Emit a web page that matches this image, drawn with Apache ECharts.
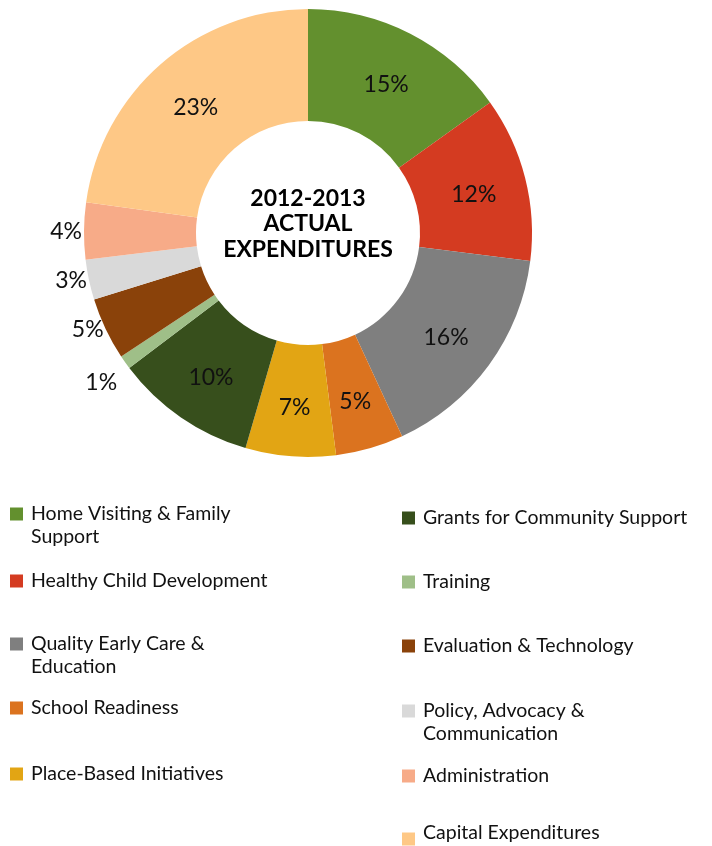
<!DOCTYPE html>
<html>
<head>
<meta charset="utf-8">
<script src="https://cdn.jsdelivr.net/npm/echarts@6/dist/echarts.min.js"></script>
<style>
  html, body { margin: 0; padding: 0; background: #fff; }
  #chart { width: 712px; height: 846px; }
</style>
</head>
<body>
<div id="chart"></div>
<script>
// 2012-2013 actual expenditures — donut, clockwise from 12 o'clock, legend in two columns below.
const CATEGORIES = [
  "Home Visiting & Family Support", "Healthy Child Development", "Quality Early Care & Education",
  "School Readiness", "Place-Based Initiatives", "Grants for Community Support", "Training",
  "Evaluation & Technology", "Policy, Advocacy & Communication", "Administration", "Capital Expenditures",
];
// share of total (%); labels show the rounded value
const SHARES = [15.1, 11.9, 16.1, 4.9, 6.5, 10.2, 1.0, 4.5, 2.9, 4.1, 22.8];
const COLORS = ["#63902e", "#d43b21", "#7f7f7f", "#db731f", "#e2a514", "#374f1c", "#9fbf88", "#8a420a", "#d9d9d9", "#f7ab88", "#fec886"];
// small slices get their label outside the ring
const OUTSIDE = [false, false, false, false, false, false, true, true, true, true, false];
// legend text as it wraps in the reference
const LEGEND_TEXT = [
  "Home Visiting & Family\nSupport", "Healthy Child Development", "Quality Early Care &\nEducation",
  "School Readiness", "Place-Based Initiatives", "Grants for Community Support", "Training",
  "Evaluation & Technology", "Policy, Advocacy &\nCommunication", "Administration", "Capital Expenditures",
];

const FONT = "Lato";
const LH = 23;
// legend slot per item: [left px, icon centre y, text raise px]
const LEGEND_POS = [[10, 514, 0], [10, 581, 0], [10, 644, 0], [10, 708, 0], [10, 774, 0],
  [402, 518, 0], [402, 582, 0], [402, 646, 0], [402, 711, 0], [402, 776, 0], [402, 839, 6]];

const chart = echarts.init(document.getElementById("chart"), null, { renderer: "canvas" });

const data = CATEGORIES.map((name, i) => ({
  name, value: SHARES[i],
  itemStyle: { color: COLORS[i] },
  label: OUTSIDE[i] ? { position: "outside", distanceToLabelLine: 2 } : { position: "inside" },
  labelLine: { show: false, length: 0, length2: 0 },
}));

const legends = CATEGORIES.map((name, i) => {
  const two = LEGEND_TEXT[i].indexOf("\n") >= 0;
  const raise = LEGEND_POS[i][2];
  const style = { fontFamily: FONT, fontSize: 19.5, color: "#111", lineHeight: LH, padding: [0, 0, 0, 3] };
  return {
    data: [name], orient: "vertical", left: LEGEND_POS[i][0],
    top: LEGEND_POS[i][1] - (two ? 1.5 * LH : LH / 2) - raise,
    padding: 0, itemWidth: 13, itemHeight: 13, selectedMode: false,
    icon: "rect",
    // a blank first line keeps the first text line level with the icon;
    // a short empty trailing line lifts the text a few px above the icon
    formatter: () => raise ? `{t|${LEGEND_TEXT[i]}}\n{g|}` : (two ? "\n" : "") + LEGEND_TEXT[i],
    textStyle: Object.assign(style, raise ? {
      rich: { t: { fontFamily: FONT, fontSize: 19.5, color: "#111", lineHeight: LH }, g: { lineHeight: 2 * raise, fontSize: 1 } },
    } : {}),
  };
});

chart.setOption({
  animation: false,
  backgroundColor: "#fff",
  legend: legends,
  graphic: [{
    type: "text", z: 10,
    position: [308, 224],
    style: {
      text: "2012-2013\nACTUAL\nEXPENDITURES", x: 0, y: 0,
      font: `bold 23px ${FONT}`, fill: "#000", lineHeight: 25.5,
      align: "center", verticalAlign: "middle",
    },
  }],
  series: [{
    type: "pie",
    center: [308, 233], radius: [112, 224],
    startAngle: 90, clockwise: true,
    avoidLabelOverlap: false,
    data,
    label: {
      show: true, fontFamily: FONT, fontSize: 23, color: "#111",
      formatter: (p) => Math.round(p.value) + "%",
    },
    labelLayout: (p) => (p.dataIndex === 6 ? { dx: -6, dy: 20 } : OUTSIDE[p.dataIndex] ? { dy: 1 } : { dy: 4 }),
    emphasis: { disabled: true },
  }],
});
</script>
</body>
</html>
